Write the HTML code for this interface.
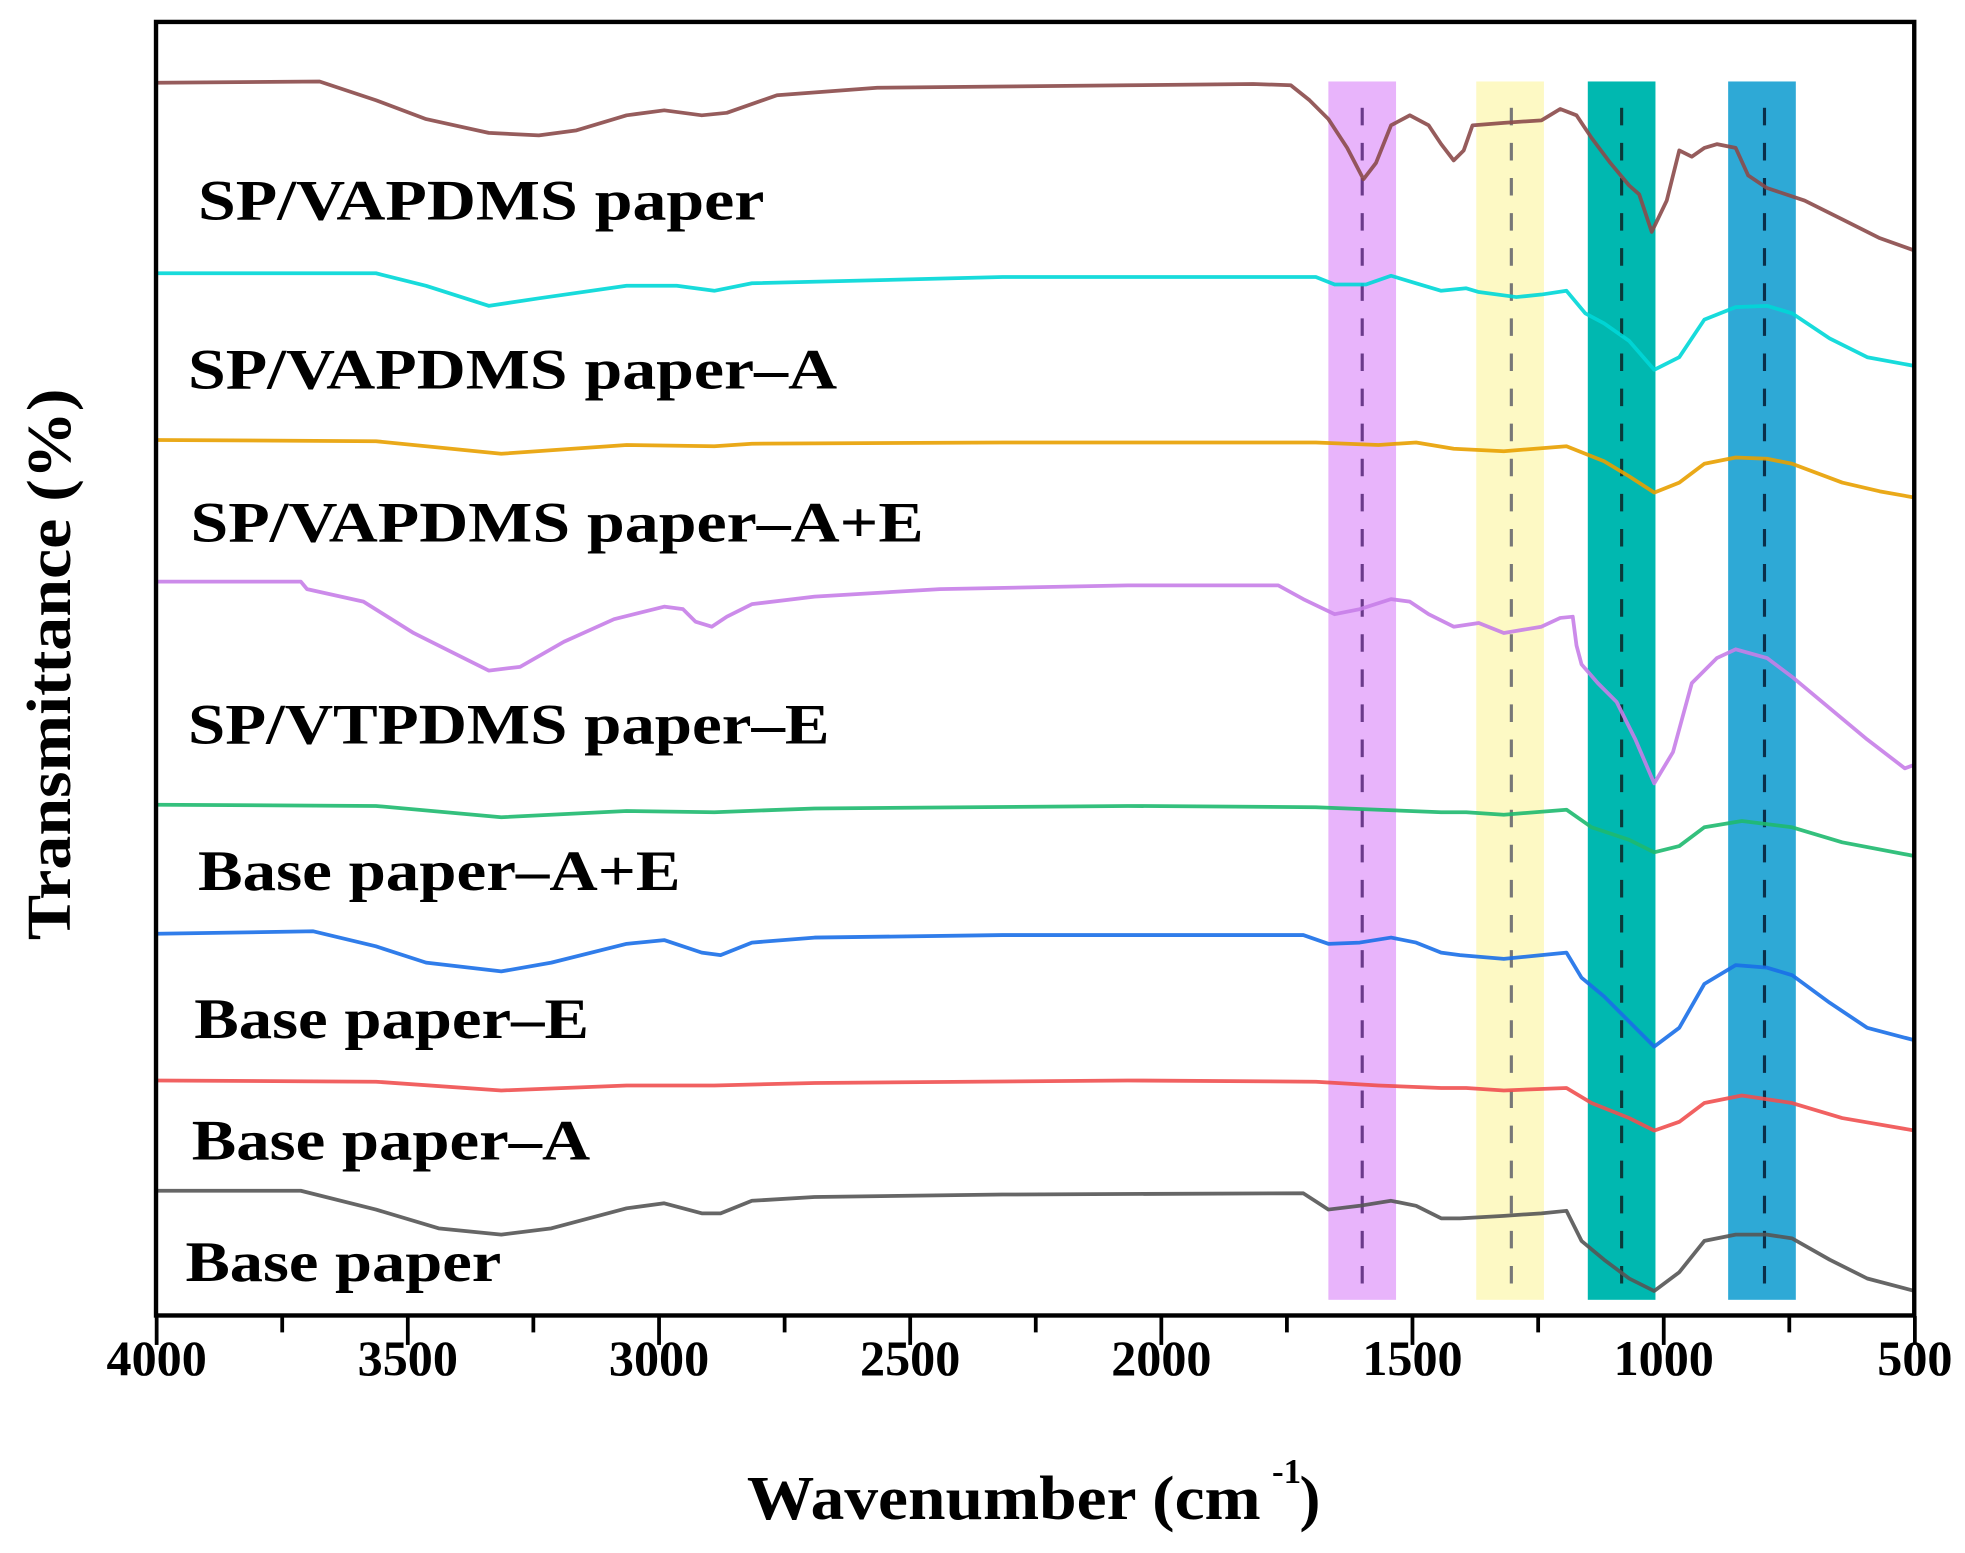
<!DOCTYPE html>
<html><head><meta charset="utf-8"><style>html,body{margin:0;padding:0;background:#fff}svg{display:block}text{font-family:"Liberation Serif","Times New Roman",serif;font-weight:bold}</style></head>
<body>
<svg width="1965" height="1553" viewBox="0 0 1568 1239" preserveAspectRatio="none" xmlns="http://www.w3.org/2000/svg">
<rect width="1568" height="1239" fill="#fff"/>
<rect x="1060" y="65" width="54" height="972" fill="#e8b4fb"/>
<rect x="1178" y="65" width="54" height="972" fill="#fdf9c4"/>
<rect x="1267" y="65" width="54" height="972" fill="#00b8b0"/>
<rect x="1379" y="65" width="54" height="972" fill="#2ea9d6"/>
<g stroke-dasharray="14 14" stroke-width="2.5" fill="none">
<line x1="1087" y1="86" x2="1087" y2="1035" stroke="#6a3a8a"/>
<line x1="1206" y1="86" x2="1206" y2="1035" stroke="#777"/>
<line x1="1294" y1="86" x2="1294" y2="1035" stroke="#0a3a3a"/>
<line x1="1408" y1="86" x2="1408" y2="1035" stroke="#0a2f4a"/>
</g>
<g fill="none" stroke-width="3" stroke-linejoin="round" opacity="0.9">
<polyline stroke="#8b4a4a" points="125,66 255,65 300,80 340,95 390,106 430,108 460,104 500,92 530,88 560,92 580,90 620,76 700,70 800,69 900,68 1000,67 1030,68 1045,80 1060,95 1075,118 1088,143 1098,130 1110,100 1125,92 1140,100 1150,115 1160,128 1168,120 1175,100 1200,98 1230,96 1245,87 1258,92 1270,110 1285,130 1300,148 1308,155 1318,185 1330,160 1340,120 1350,125 1360,118 1370,115 1385,118 1395,140 1410,150 1440,160 1470,175 1500,190 1528,200"/>
<polyline stroke="#00d8d8" points="125,218 300,218 340,228 390,244 430,238 500,228 540,228 570,232 600,226 800,221 1050,221 1065,227 1090,227 1110,220 1130,226 1150,232 1170,230 1180,233 1210,237 1230,235 1250,232 1265,250 1280,258 1300,272 1320,295 1340,285 1360,255 1385,245 1410,244 1430,250 1460,270 1490,285 1528,292"/>
<polyline stroke="#e8a000" points="125,351 300,352 400,362 500,355 570,356 600,354 800,353 1050,353 1100,355 1130,353 1160,358 1200,360 1250,356 1265,362 1280,368 1300,380 1320,393 1340,385 1360,370 1385,365 1410,366 1430,370 1470,385 1500,392 1528,397"/>
<polyline stroke="#c77ee8" points="125,464 240,464 245,470 290,480 330,505 370,525 390,535 415,532 450,512 490,494 530,484 545,486 555,496 568,500 580,492 600,482 650,476 750,470 900,467 1020,467 1040,478 1065,490 1085,486 1110,478 1125,480 1140,490 1160,500 1180,497 1200,505 1230,500 1245,493 1255,492 1258,515 1262,530 1275,545 1290,560 1305,590 1320,625 1335,600 1350,545 1370,525 1385,518 1410,525 1430,540 1460,565 1490,590 1520,613 1528,610"/>
<polyline stroke="#1fba6f" points="125,642 300,643 400,652 500,647 570,648 650,645 900,643 1050,644 1100,646 1150,648 1170,648 1200,650 1250,646 1270,660 1300,670 1320,680 1340,675 1360,660 1390,655 1430,660 1470,672 1528,683"/>
<polyline stroke="#1a6fe8" points="125,745 250,743 300,755 340,768 400,775 440,768 500,753 530,750 560,760 575,762 600,752 650,748 800,746 1040,746 1060,753 1085,752 1110,748 1130,752 1150,760 1165,762 1200,765 1230,762 1250,760 1262,780 1280,795 1300,815 1320,835 1340,820 1360,785 1385,770 1410,772 1430,778 1460,800 1490,820 1528,830"/>
<polyline stroke="#f05050" points="125,862 300,863 400,870 500,866 570,866 650,864 900,862 1050,863 1100,866 1150,868 1170,868 1200,870 1250,868 1270,880 1300,892 1320,902 1340,895 1360,880 1390,874 1430,880 1470,892 1528,902"/>
<polyline stroke="#555" points="125,950 240,950 300,965 350,980 400,985 440,980 500,964 530,960 560,968 575,968 600,958 650,955 800,953 1040,952 1060,965 1085,962 1110,958 1130,962 1150,972 1165,972 1200,970 1230,968 1250,966 1262,990 1280,1005 1300,1020 1320,1030 1340,1015 1360,990 1385,985 1410,985 1430,988 1460,1005 1490,1020 1528,1030"/>
</g>
<rect x="124.5" y="17.5" width="1403" height="1032" fill="none" stroke="#000" stroke-width="3.5"/>
<g stroke="#000" stroke-width="3">
<line x1="125" y1="1050" x2="125" y2="1073"/><line x1="325.4" y1="1050" x2="325.4" y2="1073"/><line x1="525.9" y1="1050" x2="525.9" y2="1073"/><line x1="726.3" y1="1050" x2="726.3" y2="1073"/><line x1="926.7" y1="1050" x2="926.7" y2="1073"/><line x1="1127.1" y1="1050" x2="1127.1" y2="1073"/><line x1="1327.6" y1="1050" x2="1327.6" y2="1073"/><line x1="1528" y1="1050" x2="1528" y2="1073"/>
<line x1="225.2" y1="1050" x2="225.2" y2="1063"/><line x1="425.6" y1="1050" x2="425.6" y2="1063"/><line x1="626.1" y1="1050" x2="626.1" y2="1063"/><line x1="826.5" y1="1050" x2="826.5" y2="1063"/><line x1="1026.9" y1="1050" x2="1026.9" y2="1063"/><line x1="1227.4" y1="1050" x2="1227.4" y2="1063"/><line x1="1427.8" y1="1050" x2="1427.8" y2="1063"/>
</g>
<g font-size="40" text-anchor="middle" fill="#000">
<text x="125" y="1097">4000</text><text x="325.4" y="1097">3500</text><text x="525.9" y="1097">3000</text><text x="726.3" y="1097">2500</text><text x="926.7" y="1097">2000</text><text x="1127.1" y="1097">1500</text><text x="1327.6" y="1097">1000</text><text x="1528" y="1097">500</text>
</g>
<text x="596" y="1212" font-size="50" textLength="410" lengthAdjust="spacingAndGlyphs">Wavenumber (cm</text>
<text x="1015" y="1183" font-size="28">-1</text>
<text x="1037" y="1212" font-size="50">)</text>
<text transform="translate(56,530) rotate(-90)" font-size="50" text-anchor="middle" textLength="440" lengthAdjust="spacingAndGlyphs">Transmittance (%)</text>
<g font-size="46" fill="#000">
<text x="158" y="175" textLength="452" lengthAdjust="spacingAndGlyphs">SP/VAPDMS paper</text>
<text x="150" y="310" textLength="518" lengthAdjust="spacingAndGlyphs">SP/VAPDMS paper–A</text>
<text x="152" y="432" textLength="585" lengthAdjust="spacingAndGlyphs">SP/VAPDMS paper–A+E</text>
<text x="150" y="593" textLength="512" lengthAdjust="spacingAndGlyphs">SP/VTPDMS paper–E</text>
<text x="158" y="710" textLength="385" lengthAdjust="spacingAndGlyphs">Base paper–A+E</text>
<text x="155" y="828" textLength="315" lengthAdjust="spacingAndGlyphs">Base paper–E</text>
<text x="153" y="925" textLength="318" lengthAdjust="spacingAndGlyphs">Base paper–A</text>
<text x="148" y="1022" textLength="252" lengthAdjust="spacingAndGlyphs">Base paper</text>
</g>
</svg>
</body></html>
